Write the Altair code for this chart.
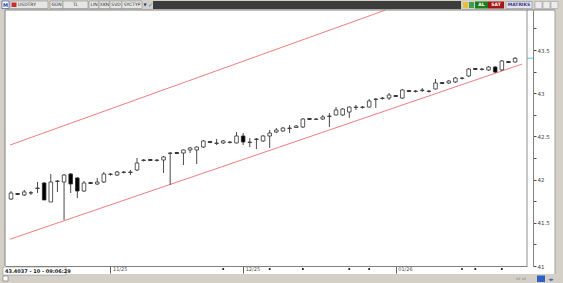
import altair as alt
import pandas as pd

# ---------------- data (USDTRY daily candles) ----------------
opens = [41.775, 41.839, 41.822, 41.845, 41.897, 41.961, 41.741, 41.978, 41.972, 42.065,
         42.019, 41.868, 41.966, 41.949, 41.972, 42.059, 42.053, 42.082, 42.082, 42.111,
         42.221, 42.233, 42.221, 42.227, 42.302, 42.314, 42.308, 42.343, 42.343, 42.377,
         42.441, 42.418, 42.424, 42.429, 42.424, 42.505, 42.429, 42.464, 42.447, 42.505,
         42.551, 42.563, 42.591, 42.603, 42.609, 42.707, 42.696, 42.701, 42.730, 42.748,
         42.748, 42.782, 42.835, 42.835, 42.840, 42.927, 42.939, 42.944, 42.973, 42.944,
         43.031, 43.020, 43.031, 43.020, 43.049, 43.124, 43.118, 43.130, 43.170, 43.199,
         43.286, 43.274, 43.269, 43.303, 43.269, 43.367, 43.361]
highs = [41.868, 41.845, 41.880, 41.868, 41.972, 41.972, 42.065, 41.995, 42.065, 42.076,
         42.030, 41.984, 41.972, 42.019, 42.088, 42.076, 42.100, 42.100, 42.111, 42.250,
         42.238, 42.238, 42.238, 42.273, 42.319, 42.319, 42.348, 42.377, 42.383, 42.458,
         42.447, 42.470, 42.458, 42.447, 42.551, 42.539, 42.481, 42.481, 42.516, 42.574,
         42.597, 42.609, 42.632, 42.632, 42.713, 42.713, 42.713, 42.748, 42.771, 42.840,
         42.829, 42.846, 42.863, 42.852, 42.933, 42.944, 42.956, 43.002, 42.979, 43.049,
         43.037, 43.037, 43.060, 43.037, 43.164, 43.130, 43.153, 43.188, 43.188, 43.292,
         43.292, 43.292, 43.315, 43.315, 43.384, 43.373, 43.419]
lows = [41.764, 41.822, 41.810, 41.822, 41.845, 41.764, 41.741, 41.857, 41.532, 41.845,
        41.787, 41.857, 41.949, 41.938, 41.961, 42.047, 42.042, 42.071, 42.053, 42.100,
        42.210, 42.215, 42.210, 42.076, 41.938, 42.296, 42.169, 42.308, 42.181, 42.366,
        42.424, 42.400, 42.412, 42.418, 42.418, 42.400, 42.377, 42.354, 42.435, 42.366,
        42.539, 42.551, 42.539, 42.597, 42.597, 42.690, 42.690, 42.690, 42.609, 42.742,
        42.736, 42.713, 42.806, 42.823, 42.835, 42.829, 42.927, 42.921, 42.956, 42.933,
        43.014, 43.008, 43.014, 43.008, 43.043, 43.106, 43.106, 43.118, 43.159, 43.188,
        43.269, 43.263, 43.257, 43.234, 43.257, 43.350, 43.355]
closes = [41.845, 41.828, 41.857, 41.848, 41.903, 41.764, 41.972, 41.984, 42.053, 41.949,
          41.868, 41.961, 41.955, 41.972, 42.065, 42.065, 42.088, 42.088, 42.088, 42.192,
          42.227, 42.221, 42.227, 42.262, 42.308, 42.302, 42.343, 42.366, 42.377, 42.447,
          42.429, 42.424, 42.447, 42.435, 42.505, 42.435, 42.435, 42.470, 42.505, 42.539,
          42.574, 42.597, 42.597, 42.620, 42.701, 42.696, 42.701, 42.725, 42.736, 42.806,
          42.817, 42.840, 42.840, 42.840, 42.910, 42.933, 42.944, 42.979, 42.962, 43.037,
          43.020, 43.025, 43.037, 43.025, 43.118, 43.112, 43.141, 43.176, 43.176, 43.280,
          43.274, 43.280, 43.303, 43.245, 43.373, 43.355, 43.404]

month_tick_idx = [15, 35, 58]
month_labels = ["11/25", "12/25", "01/26"]
event_idx = [32, 39, 44, 51, 54, 68, 70, 74]
price_ticks = [41.0, 41.25, 41.5, 41.75, 42.0, 42.25, 42.5, 42.75, 43.0, 43.25, 43.5, 43.75]

upper_idx = [-0.15, 56.48]
upper_price = [42.400, 43.963]
lower_idx = [-0.15, 77.04]
lower_price = [41.310, 43.337]

info_text = "43.4037 - 10 - 09:06:29"

# ---------------- tables ----------------
candles = pd.DataFrame({
    "i": list(range(len(opens))),
    "open": opens, "high": highs, "low": lows, "close": closes,
})
candles["dir"] = ["up" if c >= o else "down" for o, c in zip(opens, closes)]

channels = pd.DataFrame({
    "i": upper_idx + lower_idx,
    "p": upper_price + lower_price,
    "line": ["upper", "upper", "lower", "lower"],
})
events = pd.DataFrame({"i": event_idx})
last = pd.DataFrame({"p": [closes[-1]]})
one = pd.DataFrame({"a": [0]})

W, H = 522, 256
FONT = "DejaVu Sans"

xscale = alt.Scale(domain=[-0.15, 77.04], nice=False, zero=False)
yscale = alt.Scale(domain=[41.0, 43.963], nice=False, zero=False)

label_expr = " : ".join(
    f"datum.value == {v} ? '{l}'" for v, l in zip(month_tick_idx, month_labels)
) + " : ''"

x_axis = alt.Axis(values=month_tick_idx, labelExpr=label_expr, grid=False, title=None,
                  domainColor="#808080", tickColor="#606060", tickSize=7,
                  labelAlign="left", labelBaseline="top", labelPadding=-7, labelOffset=2,
                  labelFontSize=5, labelColor="#505050", labelFont=FONT, zindex=2)
y_axis = alt.Axis(orient="right", values=price_ticks, format=".1~f",
                  labelExpr="(datum.value * 4) % 2 == 0 ? datum.label : ''",
                  offset=6, grid=False, title=None, domainColor="#808080",
                  tickColor="#505050", tickSize=3, labelFontSize=5.5,
                  labelColor="#404040", labelPadding=1, labelFont=FONT, zindex=2)

def X(field):
    return alt.X(field, scale=xscale, axis=x_axis)

def Y(field):
    return alt.Y(field, scale=yscale, axis=y_axis)

layers = []

def rect(x0, x1, y0, y1, fill, stroke=None, sw=0.6):
    kw = dict(fill=fill)
    if stroke:
        kw.update(stroke=stroke, strokeWidth=sw)
    else:
        kw.update(strokeWidth=0)
    return alt.Chart(one).mark_rect(**kw).encode(
        x=alt.value(x0 - 5), x2=alt.value(x1 - 5),
        y=alt.value(y0 - 10), y2=alt.value(y1 - 10))

def text(x, y, s, size=5, color="#303030", bold=False, align="left"):
    return alt.Chart(one).mark_text(
        text=s, fontSize=size, font=FONT, color=color, align=align,
        baseline="middle", fontWeight="bold" if bold else "normal").encode(
        x=alt.value(x - 5), y=alt.value(y - 10))

# white strips around the plot (axis areas)
layers.append(rect(527, 555, 10, 274, "white"))
layers.append(rect(4, 555, 266, 274, "white"))

# channel lines
layers.append(alt.Chart(channels).mark_line(color="#f07e7e", strokeWidth=1, clip=True).encode(
    x=X("i:Q"), y=Y("p:Q"), detail="line:N"))

# wicks
layers.append(alt.Chart(candles).mark_rule(color="#4a4a4a", strokeWidth=1).encode(
    x=X("i:Q"), y=Y("low:Q"), y2="high:Q"))

# bodies
layers.append(alt.Chart(candles).mark_bar(size=3.6, stroke="#303030", strokeWidth=0.8).encode(
    x=X("i:Q"), y=Y("open:Q"), y2="close:Q",
    fill=alt.Fill("dir:N", scale=alt.Scale(domain=["up", "down"], range=["white", "black"]),
                  legend=None)))

# last-price marker on the axis strip
layers.append(alt.Chart(last).mark_rule(color="#7fdcec", strokeWidth=1.5).encode(
    y=Y("p:Q"), x=alt.value(W), x2=alt.value(W + 6)))

# event markers on the time strip
layers.append(alt.Chart(events).mark_square(size=3, color="black", opacity=1).encode(
    x=X("i:Q"), y=alt.value(H + 3)))

# plot borders
layers.append(alt.Chart(one).mark_rule(color="#808080", strokeWidth=1).encode(
    x=alt.value(0), y=alt.value(0), y2=alt.value(H)))
layers.append(alt.Chart(one).mark_rule(color="#909090", strokeWidth=1).encode(
    x=alt.value(W), y=alt.value(0), y2=alt.value(H)))
layers.append(alt.Chart(one).mark_rule(color="#808080", strokeWidth=1).encode(
    x=alt.value(0), x2=alt.value(550), y=alt.value(0)))
layers.append(alt.Chart(one).mark_rule(color="#a0a0a0", strokeWidth=1).encode(
    x=alt.value(550), y=alt.value(0), y2=alt.value(264)))

# top toolbar
boxes = [("USDTRY", 10, 48), ("GÜN", 50, 63), ("TL", 63, 88), ("LIN", 89, 99),
         ("XKN", 99, 110), ("SVD", 110, 122), ("SYCTYP", 122, 142)]
layers.append(rect(2, 9, 1, 8.5, "white", "#2040a0"))
layers.append(text(5.5, 5, "M", 5, "#2040a0", True, "center"))
for lab, a, b in boxes:
    layers.append(rect(a, b, 1, 8.5, "#e6e6e6", "#8a8a8a"))
    if lab == "USDTRY":
        layers.append(rect(11.5, 16.5, 2.5, 7, "#c83030"))
        layers.append(text(18, 5, lab, 4.5))
    else:
        layers.append(text((a + b) / 2, 5, lab, 4.5, align="center"))
layers.append(text(145, 5, "▼", 4, "#203080", align="center"))
layers.append(text(150.5, 5, "✓", 6, "#2a80d0", True, "center"))
layers.append(rect(153, 461, 1, 9, "#3c3c3c"))
layers.append(rect(463, 468, 2, 8, "#e8c040"))
layers.append(rect(469, 474, 2, 8, "#3aa050"))
layers.append(rect(475, 488, 1.5, 8.5, "#1e7d1e"))
layers.append(text(481.5, 5, "AL", 4.5, "white", True, "center"))
layers.append(rect(488, 504, 1.5, 8.5, "#a51515"))
layers.append(text(496, 5, "SAT", 4.5, "white", True, "center"))
layers.append(rect(506, 532, 1.5, 8.5, "#e4e4ee", "#9090a0"))
layers.append(text(519, 5, "MATRIKS", 4.5, "#3a3a90", True, "center"))
for a in (535, 543, 551):
    layers.append(rect(a, a + 7, 1.5, 8.5, "#ececec", "#a0a0a0"))

# bottom status
layers.append(rect(3, 66, 267, 275, "white", "#909090"))
layers.append(text(5, 271, info_text, 5, "#202020", True))
layers.append(rect(3, 8, 276, 281, "white", "#707070"))
layers.append(text(521, 279, "ıııl  ıııl", 4, "#808080", align="center"))
layers.append(rect(537, 545, 275.5, 282, "#3060c0"))
layers.append(text(551, 279, "◂▸", 5, "#3060c0", align="center"))

chart = alt.layer(*layers).properties(
    width=W, height=H,
    padding={"left": 5, "top": 10, "right": 36, "bottom": 17},
    autosize=alt.AutoSizeParams(type="none"),
    background="#d4d0c8",
).configure_view(stroke=None, fill="white")

chart.save("out.html", embed_options={"renderer": "svg", "actions": False})
